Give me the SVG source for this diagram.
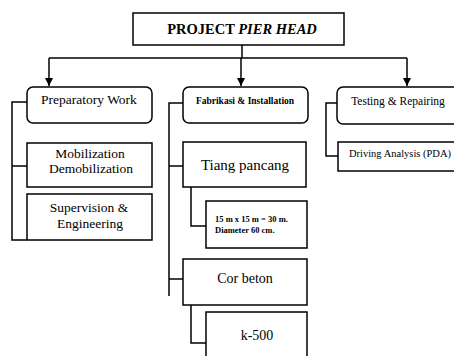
<svg xmlns="http://www.w3.org/2000/svg" width="454" height="356" viewBox="0 0 454 356">
<defs>
<marker id="arr" viewBox="0 0 10 10" refX="10" refY="5" markerWidth="8" markerHeight="8" markerUnits="userSpaceOnUse" orient="auto">
<path d="M0,0 L10,5 L0,10 z" fill="#000"/>
</marker>
<style>
.box{fill:#fff;stroke:#000;stroke-width:1.5}
.ln{fill:none;stroke:#000;stroke-width:1.5}
.t{font-family:'Liberation Serif','Times New Roman','DejaVu Serif',serif;fill:#000;text-anchor:middle}
.s{font-family:'Liberation Serif','Times New Roman','DejaVu Serif',serif;fill:#000;text-anchor:start}
</style>
</defs>
<rect width="454" height="356" fill="#fff"/>
<g id="connectors">
<line class="ln" x1="242" y1="45" x2="242" y2="58"/>
<line class="ln" x1="49" y1="58" x2="407" y2="58"/>
<line class="ln" x1="49" y1="58" x2="49" y2="86" marker-end="url(#arr)"/>
<line class="ln" x1="241" y1="58" x2="241" y2="86" marker-end="url(#arr)"/>
<line class="ln" x1="407" y1="58" x2="407" y2="86" marker-end="url(#arr)"/>
<path class="ln" d="M27,102 H12 V240 H27 M12,166 H27"/>
<path class="ln" d="M183,103 H169 V296 M169,166 H183 M169,279 H183"/>
<path class="ln" d="M191,187 V226 H206"/>
<path class="ln" d="M191,305 V343 H206"/>
<path class="ln" d="M337,103 H326 V156 H338"/>
</g>
<g id="title">
<rect class="box" x="133" y="13" width="211" height="32"/>
<text class="t" x="242" y="34" font-size="14.5" font-weight="bold">PROJECT <tspan font-style="italic">PIER HEAD</tspan></text>
</g>
<g id="preparatory">
<rect class="box" x="27" y="87" width="125" height="36" rx="6"/>
<text class="t" x="89" y="104" font-size="13.5">Preparatory Work</text>
</g>
<g id="mobilization">
<rect class="box" x="27" y="143" width="125" height="44"/>
<text class="t" x="90" y="158" font-size="13.5">Mobilization</text>
<text class="t" x="91" y="173" font-size="13.5">Demobilization</text>
</g>
<g id="supervision">
<rect class="box" x="27" y="194" width="125" height="46"/>
<text class="t" x="89" y="212" font-size="13.5">Supervision &amp;</text>
<text class="t" x="90" y="228" font-size="13.5">Engineering</text>
</g>
<g id="fabrikasi">
<rect class="box" x="183" y="87" width="125" height="36" rx="6"/>
<text class="t" x="245" y="104" font-size="9.5" font-weight="bold">Fabrikasi &amp; Installation</text>
</g>
<g id="tiang">
<rect class="box" x="183" y="142" width="123" height="45"/>
<text class="t" x="245" y="170" font-size="15">Tiang pancang</text>
</g>
<g id="detail">
<rect class="box" x="206" y="201" width="101" height="47"/>
<text class="s" x="215" y="222" font-size="8.5" font-weight="bold">15 m x 15 m = 30 m.</text>
<text class="s" x="215" y="233" font-size="8.5" font-weight="bold">Diameter 60 cm.</text>
</g>
<g id="corbeton">
<rect class="box" x="183" y="259" width="124" height="46"/>
<text class="t" x="245" y="283" font-size="14">Cor beton</text>
</g>
<g id="k500">
<rect class="box" x="206" y="312" width="101" height="50"/>
<text class="t" x="257" y="340" font-size="14">k-500</text>
</g>
<g id="testing">
<rect class="box" x="337" y="87" width="125" height="37" rx="6"/>
<text class="t" x="398" y="105" font-size="11.5">Testing &amp; Repairing</text>
</g>
<g id="driving">
<rect class="box" x="338" y="142" width="125" height="29"/>
<text class="t" x="400" y="157" font-size="10.5">Driving Analysis (PDA)</text>
</g>
</svg>
